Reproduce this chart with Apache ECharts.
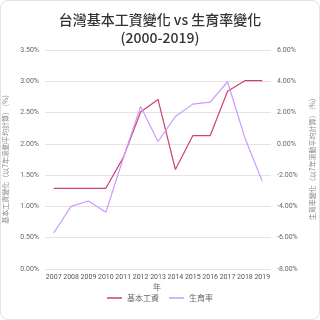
<!DOCTYPE html>
<html><head><meta charset="utf-8">
<script src="https://cdn.jsdelivr.net/npm/echarts@6/dist/echarts.min.js"></script>
<style>
html,body{margin:0;padding:0;background:#fff;}
#card{position:absolute;left:0;top:0;width:318px;height:318px;border:1px solid #e2e2e2;border-radius:8px;overflow:hidden;}
#c{width:318px;height:318px;}
</style></head>
<body><div id="card"><div id="c"></div></div>
<script>
const years = ['2007','2008','2009','2010','2011','2012','2013','2014','2015','2016','2017','2018','2019'];
const wageChange = [1.29,1.29,1.29,1.29,1.78,2.51,2.71,1.59,2.13,2.13,2.84,3.01,3.01];
const birthChange = [-5.7,-4.0,-3.65,-4.38,-0.92,2.39,0.15,1.75,2.54,2.67,3.97,0.38,-2.4];
const leftTicks = [0,3.5,0.5];
const rightTicks = [-8,6,2];
const font = '"Noto Sans CJK TC", "Noto Sans", sans-serif';
const narrow = 'Roboto, "Noto Sans CJK TC", sans-serif';
const chart = echarts.init(document.getElementById('c'));
chart.setOption({
  animation:false,
  textStyle:{fontFamily:font},
  title:[
   {text:'台灣基本工資變化 vs 生育率變化\n(2000-2019)',left:'center',top:5,
    textStyle:{fontSize:14,fontWeight:500,color:'#333',lineHeight:18,fontFamily:font}},
   {text:'年',left:152,top:282,padding:0,
    textStyle:{fontSize:8,fontWeight:'normal',color:'#666',fontFamily:font}}
  ],
  grid:{left:44,right:48,top:49,bottom:50,containLabel:false,outerBoundsMode:'none'},
  legend:{bottom:12,itemWidth:15,itemHeight:1.5,itemGap:10,icon:'rect',
    textStyle:{fontSize:8,color:'#666'},data:['基本工資','生育率']},
  xAxis:{type:'category',data:years,boundaryGap:true,
    axisLine:{show:false},axisTick:{show:false},
    axisLabel:{fontSize:7,color:'#555',interval:0,margin:5,fontFamily:narrow}},
  yAxis:[
   {type:'value',min:leftTicks[0],max:leftTicks[1],interval:leftTicks[2],position:'left',
    name:'基本工資變化（以7年滾動平均計算） (%)',nameLocation:'middle',nameGap:31,nameRotate:90,
    nameTextStyle:{fontSize:7,color:'#888'},
    axisLabel:{fontSize:7,color:'#666',margin:6,fontFamily:narrow,formatter:v=>v.toFixed(2)+'%'},
    axisLine:{show:false},axisTick:{show:false},splitLine:{lineStyle:{color:'#e3e3e3'}}},
   {type:'value',min:rightTicks[0],max:rightTicks[1],interval:rightTicks[2],position:'right',
    name:'生育率變化（以7年滾動平均計算） (%)',nameLocation:'middle',nameGap:35,nameRotate:90,
    nameTextStyle:{fontSize:7,color:'#888'},
    axisLabel:{fontSize:7,color:'#666',margin:6,fontFamily:narrow,formatter:v=>v.toFixed(2)+'%'},
    axisLine:{show:false},axisTick:{show:false},splitLine:{show:false}}
  ],
  series:[
   {name:'基本工資',type:'line',data:wageChange,yAxisIndex:0,symbol:'none',
    lineStyle:{color:'#d2406d',width:1.2},itemStyle:{color:'#d2406d'}},
   {name:'生育率',type:'line',data:birthChange,yAxisIndex:1,symbol:'none',
    lineStyle:{color:'#cc99ff',width:1.2},itemStyle:{color:'#cc99ff'}}
  ]
});
</script></body></html>
